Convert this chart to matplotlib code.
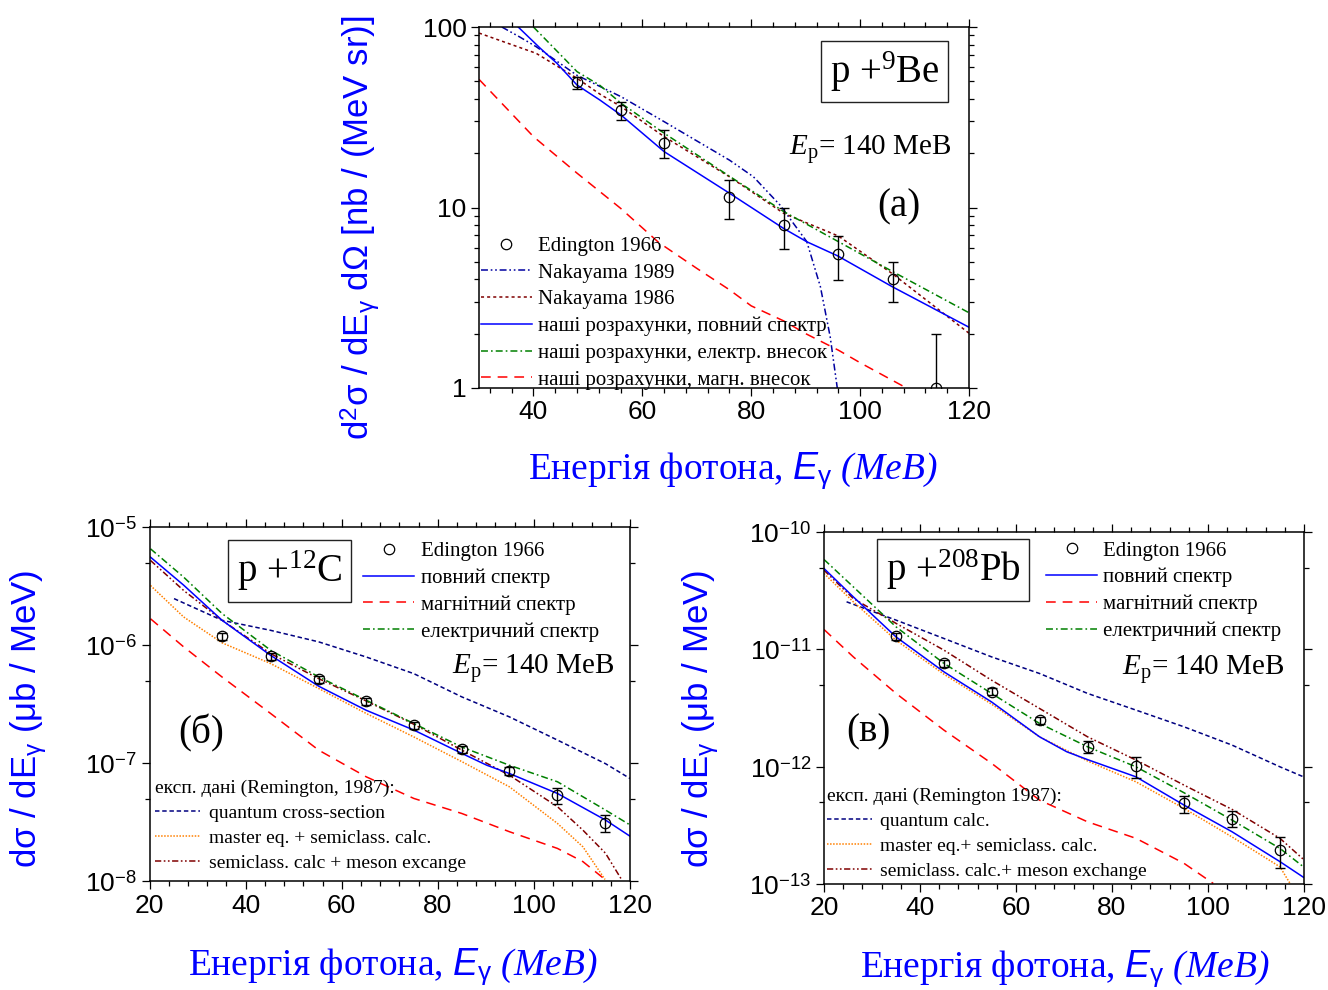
import numpy as np
import matplotlib
matplotlib.use("Agg")
import matplotlib.pyplot as plt
from matplotlib.lines import Line2D
from matplotlib.ticker import MultipleLocator, NullFormatter

plt.rcParams['font.family'] = 'Liberation Serif'
plt.rcParams['mathtext.fontset'] = 'custom'
plt.rcParams['mathtext.rm'] = 'Liberation Serif'
plt.rcParams['mathtext.it'] = 'Liberation Serif:italic'
plt.rcParams['mathtext.tt'] = 'Liberation Serif:italic'
plt.rcParams['mathtext.sf'] = 'Liberation Sans:italic'
plt.rcParams['mathtext.bf'] = 'Liberation Sans'
plt.rcParams['lines.scale_dashes'] = False

# %% p + 9Be, E_p = 140 MeV  (nb / (MeV sr))
be_E = [48, 56, 64, 76, 86, 96, 106, 114]
be_y = [49.8, 34.7, 22.9, 11.5, 8.0, 5.5, 4.0, 1.0]
be_lo = [45.4, 30.5, 18.7, 8.6, 5.9, 3.97, 2.98, 0.5]
be_hi = [53.0, 38.5, 26.9, 14.2, 9.9, 6.95, 4.97, 2.0]

be_full_E = [37.2, 41.3, 44.3, 48, 52.2, 56.1, 64, 76, 85.9, 90.2, 95.9, 105.9, 120]
be_full_y = [100, 76, 63, 47.7, 39.4, 32.5, 20.4, 12.0, 7.67, 6.46, 5.39, 3.64, 2.17]
be_el_E = [40, 48, 52.2, 56.1, 64, 76, 86, 96, 106, 120]
be_el_y = [100, 56.6, 47.5, 37.8, 25.8, 14.9, 9.48, 6.47, 4.41, 2.61]
be_mag_E = [30, 40, 48, 56, 63, 70, 76, 80, 86, 90, 96, 100, 108.5]
be_mag_y = [51.3, 24.7, 15.5, 9.9, 6.4, 4.6, 3.5, 2.85, 2.35, 2.0, 1.62, 1.38, 1.0]
nak86_E = [30, 40.5, 48, 52.2, 56.1, 64, 76, 86, 96, 106, 120]
nak86_y = [92.6, 71.5, 52, 42.5, 36.2, 24.7, 14.8, 9.27, 6.95, 4.28, 2.01]
nak89_E = [34.2, 37.5, 40.5, 48, 56.1, 64, 76, 80.4, 85.3, 90.2, 92.7, 94.5, 95.8]
nak89_y = [100, 88, 77.8, 54, 41.1, 29.9, 18.3, 14.8, 10.3, 6.47, 3.64, 1.92, 1.0]

# %% p + 12C  (ub / MeV)
c_E = [35.1, 45.2, 55.2, 65.1, 75, 85, 94.9, 104.9, 114.9]
c_y = [1.19e-6, 8.07e-7, 5.15e-7, 3.37e-7, 2.10e-7, 1.31e-7, 8.6e-8, 5.36e-8, 3.12e-8]
c_lo = [1.11e-6, 7.5e-7, 4.8e-7, 3.13e-7, 1.95e-7, 1.22e-7, 8.0e-8, 4.5e-8, 2.62e-8]
c_hi = [1.27e-6, 8.6e-7, 5.5e-7, 3.6e-7, 2.25e-7, 1.40e-7, 9.2e-8, 6.1e-8, 3.62e-8]

c_full_E = [20.2, 27.1, 35.1, 45.2, 55.2, 65.1, 75, 85, 90.2, 94.9, 104.9, 114.9, 120]
c_full_y = [5.60e-6, 3.24e-6, 1.63e-6, 8.22e-7, 4.50e-7, 2.81e-7, 1.91e-7, 1.21e-7,
            9.6e-8, 8.17e-8, 5.53e-8, 3.29e-8, 2.40e-8]
c_el_E = [20.2, 27.1, 35.1, 45.2, 55.2, 65.1, 75, 85, 94.9, 104.9, 114.9, 120]
c_el_y = [6.59e-6, 3.79e-6, 1.86e-6, 9.08e-7, 5.40e-7, 3.42e-7, 2.17e-7, 1.37e-7,
          9.6e-8, 6.95e-8, 4.0e-8, 2.99e-8]
c_mag_E = [20.2, 27.1, 35.1, 45.2, 55.2, 65.1, 75, 85, 94.9, 104.9, 110.2, 114.8]
c_mag_y = [1.68e-6, 9.7e-7, 5.38e-7, 2.64e-7, 1.29e-7, 7.66e-8, 5.02e-8, 3.74e-8,
           2.62e-8, 1.89e-8, 1.46e-8, 1.03e-8]
c_qu_E = [25.1, 35.1, 45.2, 55.2, 65.1, 75, 85, 94.9, 104.9, 114.9, 120]
c_qu_y = [2.49e-6, 1.63e-6, 1.34e-6, 1.07e-6, 7.96e-7, 5.75e-7, 3.65e-7, 2.47e-7,
          1.57e-7, 9.9e-8, 7.41e-8]
c_me_E = [20.2, 27.1, 35.1, 45.2, 55.2, 65.1, 75, 85, 94.9, 104.9, 110.2, 114.8]
c_me_y = [3.22e-6, 1.74e-6, 1.05e-6, 7.0e-7, 4.30e-7, 2.64e-7, 1.67e-7, 1.03e-7,
          6.3e-8, 3.08e-8, 1.95e-8, 1.03e-8]
c_mx_E = [20.2, 27.1, 35.1, 45.2, 55.2, 65.1, 75, 85, 94.9, 104.9, 110.2, 114.9, 118.3]
c_mx_y = [5.25e-6, 2.92e-6, 1.63e-6, 8.51e-7, 5.22e-7, 3.37e-7, 2.14e-7, 1.29e-7,
          7.9e-8, 4.27e-8, 2.70e-8, 1.72e-8, 1.02e-8]

# %% p + 208Pb  (ub / MeV)
pb_E = [35, 45, 54.9, 64.9, 74.9, 85, 95, 105, 115]
pb_y = [1.30e-11, 7.60e-12, 4.36e-12, 2.49e-12, 1.48e-12, 1.01e-12, 4.86e-13, 3.57e-13, 1.95e-13]
pb_lo = [1.21e-11, 7.07e-12, 4.05e-12, 2.32e-12, 1.30e-12, 7.94e-13, 4.05e-13, 3.04e-13, 1.36e-13]
pb_hi = [1.39e-11, 8.13e-12, 4.67e-12, 2.66e-12, 1.66e-12, 1.20e-12, 5.61e-13, 4.21e-13, 2.53e-13]

pb_full_E = [20, 26.1, 35, 45, 54.9, 64.9, 70.6, 74.9, 85, 95, 105, 115, 119.9]
pb_full_y = [4.90e-11, 2.81e-11, 1.28e-11, 6.44e-12, 3.57e-12, 1.80e-12, 1.34e-12, 1.15e-12,
             8.2e-13, 4.71e-13, 2.79e-13, 1.55e-13, 1.14e-13]
pb_el_E = [20, 26.1, 35, 45, 54.9, 64.9, 74.9, 85, 95, 105, 115, 119.9]
pb_el_y = [5.85e-11, 3.42e-11, 1.56e-11, 7.60e-12, 4.22e-12, 2.34e-12, 1.48e-12, 9.98e-13,
           6.0e-13, 3.51e-13, 2.01e-13, 1.40e-13]
pb_mag_E = [20, 26.1, 35, 45, 54.9, 64.9, 74.9, 85, 95, 101.1]
pb_mag_y = [1.48e-11, 8.65e-12, 4.22e-12, 2.05e-12, 1.07e-12, 5.19e-13, 3.39e-13, 2.45e-13,
            1.50e-13, 1.01e-13]
pb_qu_E = [24.7, 35, 45, 54.9, 64.9, 74.9, 85, 95, 105, 115, 119.9]
pb_qu_y = [2.55e-11, 1.78e-11, 1.24e-11, 8.65e-12, 6.24e-12, 4.22e-12, 3.04e-12, 2.19e-12,
           1.53e-12, 9.98e-13, 8.2e-13]
pb_me_E = [20, 26.1, 35, 45, 54.9, 64.9, 74.9, 85, 95, 105, 115, 117.1]
pb_me_y = [4.45e-11, 2.55e-11, 1.20e-11, 6.15e-12, 3.42e-12, 1.80e-12, 1.12e-12, 7.43e-13,
           4.41e-13, 2.52e-13, 1.40e-13, 1.01e-13]
pb_mx_E = [20, 26.1, 35, 45, 54.9, 64.9, 74.9, 85, 95, 105, 115, 119.9]
pb_mx_y = [4.74e-11, 2.72e-11, 1.67e-11, 9.86e-12, 5.47e-12, 3.14e-12, 1.80e-12, 1.14e-12,
           6.97e-13, 4.33e-13, 2.45e-13, 1.62e-13]

BLUE = '#0000ff'
LINE = 1.1
full_kw = dict(color='#0000ff', lw=LINE, ls='-')
el_kw = dict(color='#008000', lw=LINE, ls=(0, (5, 2.2, 1.2, 2.2)))
mag_kw = dict(color='#ff0000', lw=LINE, ls=(0, (7, 5)))
qu_kw = dict(color='#000080', lw=LINE, ls=(0, (3.2, 2)))
me_kw = dict(color='#ff8000', lw=LINE, ls=(0, (1.1, 1.1)))
mx_kw = dict(color='#800000', lw=LINE, ls=(0, (4.5, 1.8, 1.2, 1.8, 1.2, 1.8)))
n86_kw = dict(color='#800000', lw=LINE, ls=(0, (2.2, 2.2)))
n89_kw = dict(color='#0000a0', lw=LINE, ls=(0, (5, 2, 1.2, 2, 1.2, 2)))
pt_kw = dict(marker='o', ms=7.5, mfc='none', mec='black', mew=0.9, ls='none')

# tt is mapped to serif italic so the brackets slant too
xlab = r"Енергія фотона, $\mathsf{E}_{\mathbf{\gamma}}\ \mathtt{(МеВ)}$"
box_kw = dict(boxstyle='square,pad=0.22', fc='white', ec='#222222', lw=1.0)


def style_axes(ax, xlim, ylim, yticks, ylabels, yminor):
    ax.set_yscale('log')
    ax.set_xlim(*xlim)
    ax.set_ylim(*ylim)
    ax.xaxis.set_major_locator(MultipleLocator(20))
    ax.xaxis.set_minor_locator(MultipleLocator(4))
    ax.set_yticks(yticks, labels=ylabels)
    ax.set_yticks(yminor, minor=True)
    ax.yaxis.set_minor_formatter(NullFormatter())
    ax.tick_params(which='both', direction='out', top=True, right=True, width=0.9,
                   labelsize=19, labelfontfamily='Liberation Sans', pad=3)
    ax.tick_params(which='major', length=6)
    ax.tick_params(which='minor', length=3.5)
    for s in ax.spines.values():
        s.set_linewidth(1.1)
    ax.set_xlabel(xlab, fontsize=27, color=BLUE)


def data_points(ax, E, y, lo, hi):
    y = np.array(y)
    yerr = [y - np.array(lo), np.array(hi) - y]
    ax.errorbar(E, y, yerr=yerr, fmt='none', ecolor='black', elinewidth=1.0,
                capsize=3.5, capthick=1.0, zorder=4)
    ax.plot(E, y, zorder=5, **pt_kw)


fig = plt.figure(figsize=(13.28, 9.9), dpi=100)

# %% (a) p + 9Be
ax = fig.add_axes([0.3607, 0.6081, 0.3690, 0.3646])
style_axes(ax, (30, 120), (1, 100), [1, 10, 100], ['1', '10', '100'],
           [2, 3, 4, 5, 6, 7, 8, 9, 20, 30, 40, 50, 60, 70, 80, 90])
ax.plot(nak89_E, nak89_y, **n89_kw)
ax.plot(nak86_E, nak86_y, **n86_kw)
ax.plot(be_mag_E, be_mag_y, **mag_kw)
ax.plot(be_el_E, be_el_y, **el_kw)
ax.plot(be_full_E, be_full_y, **full_kw)
data_points(ax, be_E, be_y, be_lo, be_hi)
ax.set_ylabel(r"d$^{\mathbf{2}}$σ / dE$_{\mathbf{\gamma}}$ dΩ [nb / (MeV sr)]",
              fontfamily='Liberation Sans', fontsize=25, color=BLUE)
ax.xaxis.set_label_coords(0.517, -0.172)
ax.yaxis.set_label_coords(-0.198, 0.445)
handles = [Line2D([], [], **pt_kw), Line2D([], [], **n89_kw), Line2D([], [], **n86_kw),
           Line2D([], [], **full_kw), Line2D([], [], **el_kw), Line2D([], [], **mag_kw)]
labels = ['Edington 1966', 'Nakayama 1989', 'Nakayama 1986',
          'наші розрахунки, повний спектр', 'наші розрахунки, електр. внесок',
          'наші розрахунки, магн. внесок']
ax.legend(handles, labels, loc='lower left', bbox_to_anchor=(0.004, -0.005), frameon=False,
          fontsize=15, handlelength=2.45, handletextpad=0.3, labelspacing=0.345,
          borderpad=0, borderaxespad=0)
ax.text(0.8276, 0.877, r"p +$^{9}$Be", transform=ax.transAxes, ha='center', va='center',
        fontsize=28, bbox=box_kw)
ax.text(0.965, 0.662, r"$E_{\mathrm{p}}$= 140 МеВ", transform=ax.transAxes,
        ha='right', va='center', fontsize=21)
ax.text(0.857, 0.501, "(a)", transform=ax.transAxes, ha='center', va='center', fontsize=28)


def lower_panel(rect, ylim, yticks, ylabels, yminor, data, curves, box_txt, box_xy,
                ep_xy, tag, tag_xy, up_xy, low_xy, title, low_labels, ylab_xy, xlab_xy):
    ax = fig.add_axes(rect)
    style_axes(ax, (20, 120), ylim, yticks, ylabels, yminor)
    full, mag, el, qu, me, mx = curves
    ax.plot(*qu, **qu_kw)
    ax.plot(*mag, **mag_kw)
    ax.plot(*me, **me_kw)
    ax.plot(*mx, **mx_kw)
    ax.plot(*el, **el_kw)
    ax.plot(*full, **full_kw)
    data_points(ax, *data)
    ax.set_ylabel(r"dσ / dE$_{\mathbf{\gamma}}$ (μb / MeV)", fontfamily='Liberation Sans',
                  fontsize=25, color=BLUE)
    ax.xaxis.set_label_coords(*xlab_xy)
    ax.yaxis.set_label_coords(*ylab_xy)
    up = ax.legend([Line2D([], [], **pt_kw), Line2D([], [], **full_kw),
                    Line2D([], [], **mag_kw), Line2D([], [], **el_kw)],
                   ['Edington 1966', 'повний спектр', 'магнітний спектр', 'електричний спектр'],
                   loc='upper left', bbox_to_anchor=up_xy, frameon=False, fontsize=15,
                   handlelength=2.45, handletextpad=0.3, labelspacing=0.345,
                   borderpad=0, borderaxespad=0)
    ax.add_artist(up)
    ax.legend([Line2D([], [], **qu_kw), Line2D([], [], **me_kw), Line2D([], [], **mx_kw)],
              low_labels, title=title, title_fontsize=14, alignment='left',
              loc='lower left', bbox_to_anchor=low_xy, frameon=False, fontsize=14,
              handlelength=2.3, handletextpad=0.45, labelspacing=0.38,
              borderpad=0, borderaxespad=0)
    ax.text(*box_xy, box_txt, transform=ax.transAxes, ha='center', va='center', fontsize=28,
            bbox=box_kw)
    ax.text(*ep_xy, r"$E_{\mathrm{p}}$= 140 МеВ", transform=ax.transAxes,
            ha='right', va='center', fontsize=21)
    ax.text(*tag_xy, tag, transform=ax.transAxes, ha='center', va='center', fontsize=28)
    return ax


# %% (б) p + 12C
lower_panel([0.1126, 0.1101, 0.3618, 0.3571], (1e-8, 1e-5),
            [1e-8, 1e-7, 1e-6, 1e-5],
            [r"10$^{\mathbf{-8}}$", r"10$^{\mathbf{-7}}$", r"10$^{\mathbf{-6}}$", r"10$^{\mathbf{-5}}$"],
            [5e-8, 5e-7, 5e-6],
            (c_E, c_y, c_lo, c_hi),
            [(c_full_E, c_full_y), (c_mag_E, c_mag_y), (c_el_E, c_el_y),
             (c_qu_E, c_qu_y), (c_me_E, c_me_y), (c_mx_E, c_mx_y)],
            r"p +$^{12}$C", (0.291, 0.877), (0.967, 0.60), "(б)", (0.108, 0.418),
            (0.445, 0.96), (0.012, 0.025), "експ. дані (Remington, 1987):",
            ['quantum cross-section', 'master eq. + semiclass. calc.',
             'semiclass. calc + meson excange'],
            (-0.209, 0.458), (0.506, -0.185))

# %% (в) p + 208Pb
lower_panel([0.6205, 0.1071, 0.3614, 0.3553], (1e-13, 1e-10),
            [1e-13, 1e-12, 1e-11, 1e-10],
            [r"10$^{\mathbf{-13}}$", r"10$^{\mathbf{-12}}$", r"10$^{\mathbf{-11}}$", r"10$^{\mathbf{-10}}$"],
            [5e-13, 5e-12, 5e-11],
            (pb_E, pb_y, pb_lo, pb_hi),
            [(pb_full_E, pb_full_y), (pb_mag_E, pb_mag_y), (pb_el_E, pb_el_y),
             (pb_qu_E, pb_qu_y), (pb_me_E, pb_me_y), (pb_mx_E, pb_mx_y)],
            r"p +$^{208}$Pb", (0.269, 0.893), (0.960, 0.61), "(в)", (0.092, 0.432),
            (0.4625, 0.975), (0.006, 0.011), "експ. дані (Remington 1987):",
            ['quantum calc.', 'master eq.+ semiclass. calc.',
             'semiclass. calc.+ meson exchange'],
            (-0.215, 0.469), (0.502, -0.183))

fig.savefig('out.png', dpi=100)
